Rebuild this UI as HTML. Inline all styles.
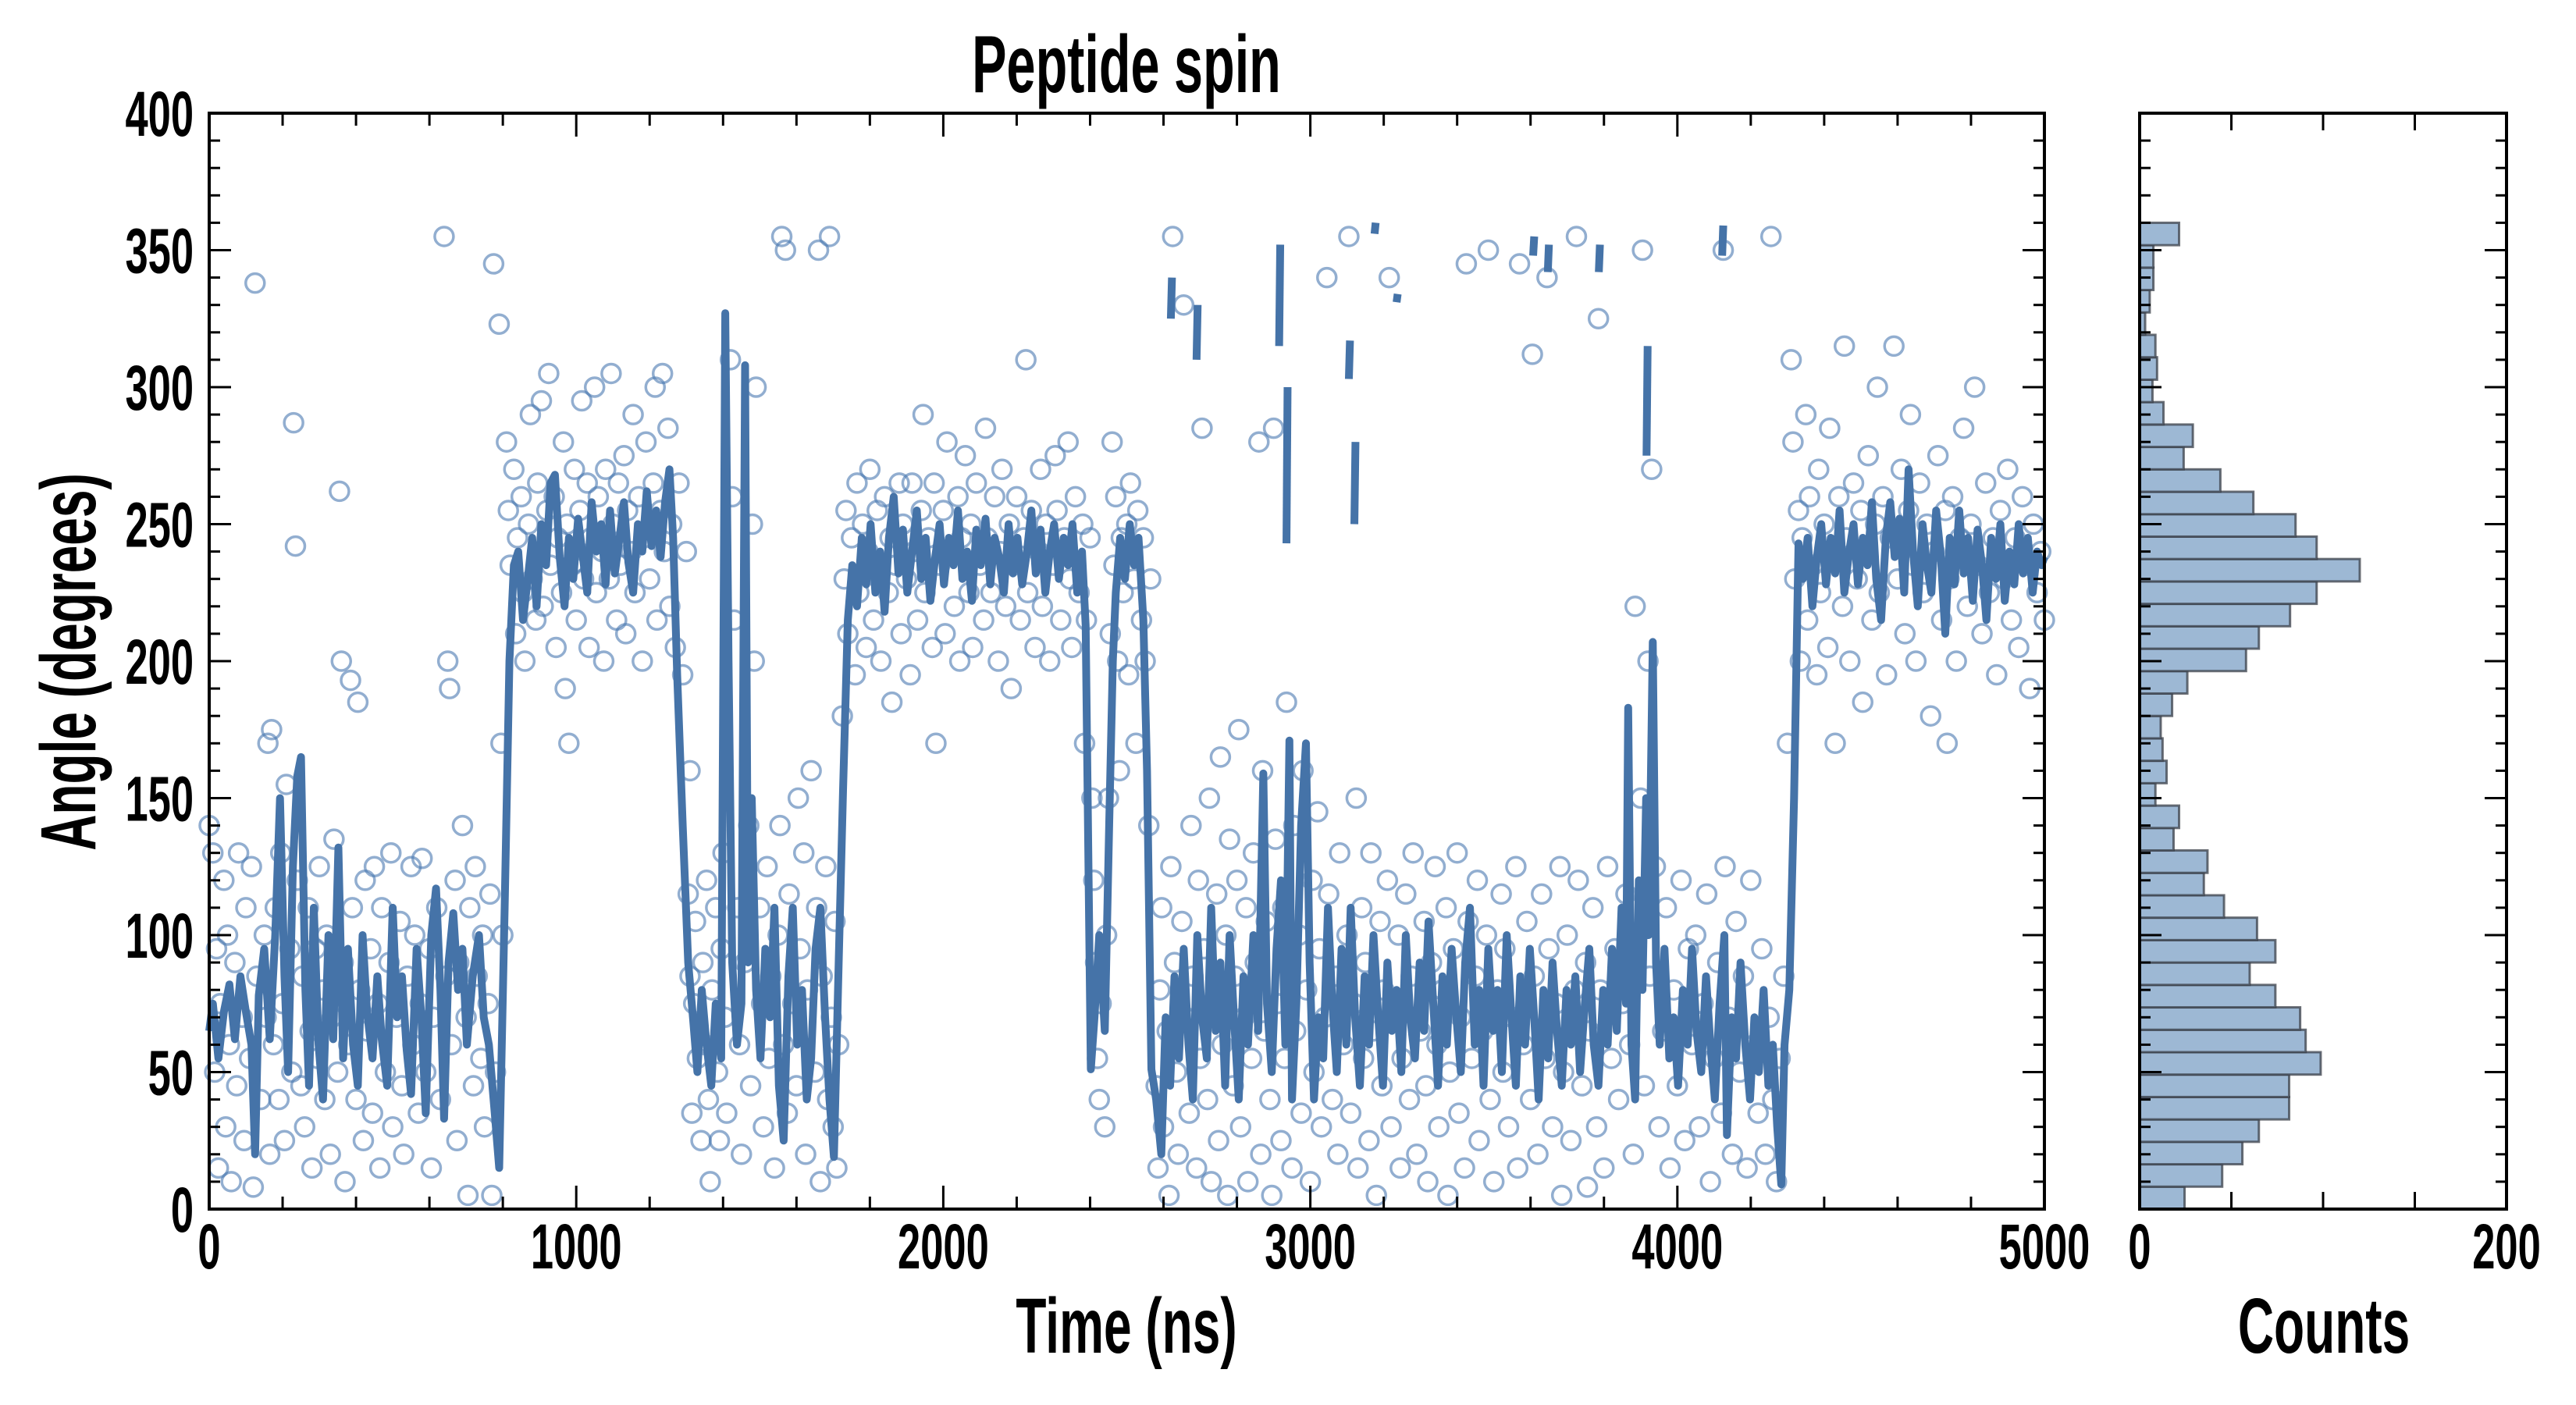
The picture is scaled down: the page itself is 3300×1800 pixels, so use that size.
<!DOCTYPE html>
<html><head><meta charset="utf-8"><title>Peptide spin</title>
<style>
html,body{margin:0;padding:0;background:#fff;}
svg{display:block;}
text{font-family:"Liberation Sans",sans-serif;font-weight:bold;fill:#000;}
</style></head>
<body>
<svg id="chart" width="3300" height="1800" viewBox="0 0 3300 1800" xmlns="http://www.w3.org/2000/svg">
<rect x="0" y="0" width="3300" height="1800" fill="#fff"/>
<g id="scatter"></g>
<g id="line"></g>
<g id="hist"></g>
<g id="axes"></g>
</svg>
<script>
const xTicks = [0, 1000, 2000, 3000, 4000, 5000];
const yTicks = [0, 50, 100, 150, 200, 250, 300, 350, 400];
const histCounts = [24.5,45,56,65,81.5,81.5,98.7,90.5,87.5,74,60,74,64,46,35,37,18.5,21.5,8.6,14.7,12.5,11.5,17.7,26,58,65,82,96.5,120,96.5,85,62,44,24,29,13,7,9.5,8.6,3,5.5,7.5,7.5,21.5];
const histTicks = [0, 200];
const scatterPts = [[0,140],[10,130],[15,50],[20,95],[25,15],[30,75],[40,120],[45,30],[50,100],[55,60],[60,10],[70,90],[75,45],[80,130],[90,70],[95,25],[100,110],[110,55],[115,125],[120,8],[125,338],[130,85],[140,40],[150,100],[155,70],[160,170],[165,20],[170,175],[175,60],[180,110],[190,40],[195,130],[200,75],[205,25],[210,155],[220,95],[225,50],[230,287],[235,242],[240,120],[250,45],[255,85],[260,30],[270,110],[275,65],[280,15],[290,95],[295,55],[300,125],[310,80],[315,40],[320,100],[330,20],[335,70],[340,135],[350,50],[355,262],[360,200],[365,90],[370,10],[380,60],[385,193],[390,110],[400,40],[405,185],[410,80],[420,25],[425,120],[430,65],[440,95],[445,35],[450,125],[460,75],[465,15],[470,110],[480,50],[490,90],[495,130],[500,30],[510,70],[520,105],[525,45],[530,20],[540,85],[550,125],[555,60],[560,100],[570,35],[575,75],[580,128],[590,50],[600,95],[605,15],[610,70],[620,110],[630,40],[640,355],[645,85],[650,200],[655,190],[660,60],[670,120],[675,25],[680,90],[690,140],[700,70],[705,5],[710,110],[720,45],[725,125],[730,85],[740,55],[745,100],[750,30],[760,75],[765,115],[770,5],[775,345],[780,50],[790,323],[795,170],[800,100],
[810,280],[815,255],[820,235],[830,270],[835,210],[840,245],[850,260],[855,225],[860,200],[870,250],[875,290],[880,230],[890,215],[895,265],[900,240],[905,295],[910,220],[920,255],[925,305],[930,235],[940,260],[945,205],[950,245],[960,225],[965,280],[970,190],[975,250],[980,170],[990,235],[995,270],[1000,215],[1010,255],[1015,295],[1020,230],[1030,265],[1035,205],[1040,245],[1050,300],[1055,225],[1060,260],[1070,240],[1075,200],[1080,270],[1090,230],[1095,305],[1100,250],[1110,215],[1115,265],[1120,235],[1130,275],[1135,210],[1140,255],[1150,240],[1155,290],[1160,225],[1170,260],[1180,200],[1185,245],[1190,280],[1200,230],[1210,265],[1215,300],[1220,215],[1230,255],[1235,305],[1240,240],[1250,285],[1255,220],[1260,250],[1270,205],[1280,265],[1290,195],[1300,240],[1310,160],
[1305,115],[1310,85],[1315,35],[1320,75],[1325,105],[1330,55],[1340,25],[1345,90],[1350,60],[1355,120],[1360,40],[1365,10],[1370,80],[1380,110],[1385,50],[1390,25],[1395,95],[1400,130],[1405,70],[1410,35],[1420,310],[1425,260],[1430,215],[1440,110],[1445,60],[1450,20],[1460,90],[1470,140],[1475,45],[1480,250],[1485,200],[1490,300],[1500,110],[1505,75],[1510,30],[1520,125],[1525,55],[1530,85],[1540,15],[1550,100],[1555,140],[1560,355],[1565,60],[1570,350],[1575,35],[1580,115],[1590,75],[1600,45],[1605,150],[1610,95],[1620,130],[1625,20],[1630,80],[1640,160],[1650,50],[1655,110],[1660,350],[1665,10],[1670,85],[1680,125],[1685,40],[1690,355],[1695,70],[1700,30],[1705,105],[1710,15],[1715,60],
[1725,180],[1730,230],[1735,255],[1740,210],[1750,245],[1760,195],[1765,265],[1770,225],[1780,250],[1790,205],[1795,240],[1800,270],[1810,215],[1820,255],[1825,230],[1830,200],[1840,260],[1850,225],[1855,245],[1860,185],[1870,235],[1880,265],[1885,210],[1890,250],[1900,230],[1910,195],[1915,265],[1920,240],[1930,215],[1940,255],[1945,290],[1950,225],[1960,245],[1970,205],[1975,265],[1980,170],[1990,235],[2000,255],[2005,210],[2010,280],[2020,240],[2030,220],[2040,260],[2045,200],[2050,245],[2060,275],[2070,225],[2075,250],[2080,205],[2090,265],[2100,235],[2110,215],[2115,285],[2120,245],[2130,225],[2140,260],[2150,200],[2155,240],[2160,270],[2170,220],[2180,250],[2185,190],[2190,235],[2200,260],[2210,215],[2220,245],[2225,310],[2230,225],[2240,255],[2250,205],[2260,240],[2265,270],[2270,220],[2280,250],[2290,200],[2300,235],[2305,275],[2310,255],[2320,215],[2330,245],[2340,280],[2345,230],[2350,205],[2360,260],[2370,225],[2380,250],[2385,170],[2390,215],[2400,245],[2405,150],
[2410,120],[2415,90],[2420,55],[2425,40],[2430,75],[2440,30],[2445,100],[2450,150],[2455,210],[2460,280],[2465,235],[2470,260],[2475,200],[2480,160],[2485,245],[2490,225],[2500,250],[2505,195],[2510,265],[2520,230],[2525,170],[2530,255],[2540,215],[2545,245],[2550,200],[2560,140],[2565,230],
[2580,45],[2585,15],[2590,80],[2595,110],[2600,30],[2610,65],[2615,5],[2620,125],[2625,355],[2630,90],[2635,50],[2640,20],[2650,105],[2655,330],[2660,70],[2670,35],[2675,140],[2680,85],[2690,15],[2695,120],[2700,55],[2705,285],[2710,95],[2720,40],[2725,150],[2730,10],[2740,75],[2745,115],[2750,25],[2755,165],[2760,60],[2770,100],[2775,5],[2780,135],[2790,45],[2795,85],[2800,120],[2805,175],[2810,30],[2820,70],[2825,110],[2830,10],[2840,55],[2845,130],[2850,90],[2860,280],[2865,20],[2870,160],[2875,65],[2880,105],[2890,40],[2895,5],[2900,285],[2905,135],[2910,75],[2920,25],[2925,110],[2930,55],[2935,185],[2940,90],[2950,15],[2955,140],[2960,65],[2970,100],[2975,35],[2980,160],[2990,80],[3000,10],[3005,120],[3010,50],[3020,145],[3025,95],[3030,30],[3040,70],[3045,340],[3050,115],[3060,40],[3070,85],[3075,20],[3080,130],[3090,60],[3100,100],[3105,355],[3110,35],[3120,75],[3125,150],[3130,15],[3140,110],[3145,55],[3150,90],[3160,25],[3165,130],[3170,65],[3180,5],[3190,105],[3195,45],[3200,80],[3210,120],[3215,340],[3220,30],[3230,70],[3240,100],[3245,15],[3250,55],[3260,115],[3270,40],[3275,85],[3280,130],[3290,20],[3300,65],[3310,105],[3315,45],[3320,10],[3330,90],[3340,125],[3345,60],[3350,30],[3360,80],[3370,110],[3375,5],[3380,50],[3390,95],[3400,130],[3405,35],[3410,70],[3420,15],[3425,345],[3430,105],[3440,55],[3450,85],[3455,120],[3460,25],[3470,65],[3480,100],[3485,350],[3490,40],[3500,10],[3510,80],[3520,115],[3525,50],[3530,95],[3540,30],[3550,70],[3560,125],[3565,15],[3570,345],[3580,60],[3590,105],[3600,40],[3605,312],[3610,85],[3620,20],[3630,115],[3640,55],[3645,340],[3650,95],[3660,30],[3670,75],[3680,125],[3685,5],[3690,50],[3700,100],[3710,25],[3720,80],[3725,355],[3730,120],[3740,45],[3750,90],[3755,8],[3760,65],[3770,110],[3780,30],[3785,325],[3790,80],[3800,15],[3810,125],[3820,55],[3830,95],[3840,40],[3850,75],[3860,115],[3870,60],[3880,20],[3885,220],[3890,100],[3900,150],[3905,350],[3910,45],[3920,200],[3925,85],[3930,270],[3940,125],[3950,30],[3960,65],[3970,110],[3980,15],[3990,80],[4000,45],[4010,120],[4020,25],[4030,95],[4040,60],[4050,100],[4060,30],[4070,75],[4080,115],[4090,10],[4100,55],[4110,90],[4120,35],[4125,350],[4130,125],[4140,70],[4150,20],[4160,105],[4170,50],[4180,85],[4190,15],[4200,120],[4210,60],[4220,35],[4230,95],[4240,20],[4250,70],[4255,355],[4260,40],[4270,10],[4280,55],[4290,85],[4300,170],
[4310,310],[4315,280],[4320,230],[4330,255],[4335,200],[4340,245],[4350,290],[4355,215],[4360,260],[4370,235],[4380,195],[4385,270],[4390,225],[4400,250],[4410,205],[4415,285],[4420,240],[4430,170],[4440,260],[4450,220],[4455,315],[4460,245],[4470,200],[4480,265],[4490,230],[4500,255],[4505,185],[4510,240],[4520,275],[4530,215],[4540,250],[4545,300],[4550,225],[4560,260],[4570,195],[4580,245],[4590,315],[4600,230],[4610,270],[4620,210],[4630,255],[4635,290],[4640,235],[4650,200],[4660,265],[4670,225],[4680,250],[4690,180],[4700,240],[4710,275],[4720,215],[4730,255],[4735,170],[4740,230],[4750,260],[4760,200],[4770,245],[4780,285],[4790,220],[4800,250],[4810,300],[4820,235],[4830,210],[4840,265],[4850,225],[4860,245],[4870,195],[4880,255],[4890,230],[4900,270],[4910,215],[4920,245],[4930,205],[4940,260],[4950,235],[4960,190],[4970,250],[4980,225],[4990,240],[5000,215]];
const lineData = [[0,65],[10,75],[25,55],[40,72],[55,82],[70,62],[85,85],[100,72],[115,60],[125,20],[135,78],[150,95],[165,62],[180,100],[193,150],[205,85],[215,50],[228,125],[240,158],[250,165],[262,80],[272,45],[285,110],[298,60],[310,40],[325,100],[338,62],[352,132],[365,55],[378,95],[392,60],[405,45],[418,100],[430,72],[445,55],[458,85],[470,62],[485,45],[500,110],[512,70],[525,85],[538,58],[550,42],[565,95],[578,70],[590,35],[605,100],[618,117],[630,80],[640,33],[652,90],[665,108],[678,80],[690,95],[702,60],[718,85],[735,100],[748,70],[762,60],[778,35],[790,15],[805,110],[818,200],[830,235],[842,240],[855,215],[868,230],[880,245],[892,220],[905,250],[918,235],[930,265],[942,268],[955,238],[968,220],[980,245],[992,230],[1005,252],[1018,238],[1030,225],[1042,258],[1055,240],[1068,250],[1080,228],[1092,255],[1105,232],[1118,245],[1130,258],[1142,236],[1155,225],[1168,250],[1180,240],[1192,262],[1205,242],[1218,255],[1230,238],[1242,258],[1254,270],[1264,245],[1275,195],[1290,140],[1305,90],[1318,70],[1330,50],[1342,80],[1355,60],[1368,45],[1380,75],[1395,55],[1406,327],[1415,200],[1425,90],[1438,60],[1450,75],[1460,308],[1468,90],[1478,150],[1490,80],[1502,55],[1515,95],[1528,70],[1540,110],[1552,45],[1565,25],[1578,85],[1590,110],[1602,60],[1615,80],[1628,40],[1640,55],[1652,95],[1665,110],[1678,70],[1690,40],[1702,19],[1715,90],[1727,153],[1740,215],[1752,235],[1765,220],[1778,245],[1790,228],[1802,250],[1815,225],[1828,240],[1840,218],[1852,245],[1865,260],[1878,232],[1890,248],[1902,225],[1915,240],[1928,255],[1940,230],[1952,245],[1965,222],[1978,238],[1990,250],[2002,228],[2015,245],[2028,235],[2040,255],[2052,230],[2065,240],[2078,222],[2090,248],[2102,235],[2115,252],[2128,228],[2140,245],[2152,238],[2165,225],[2178,250],[2190,232],[2202,245],[2215,228],[2228,240],[2240,255],[2252,232],[2265,248],[2278,225],[2290,240],[2302,250],[2315,230],[2328,245],[2340,235],[2352,250],[2365,225],[2378,240],[2388,213],[2396,120],[2402,51],[2412,70],[2425,100],[2440,65],[2452,140],[2462,200],[2470,225],[2482,245],[2495,230],[2508,250],[2520,235],[2532,245],[2545,215],[2555,160],[2567,51],[2580,40],[2594,20],[2606,70],[2618,45],[2630,85],[2642,55],[2655,95],[2668,60],[2680,40],[2692,100],[2705,70],[2718,55],[2730,110],[2742,65],[2755,90],[2768,45],[2780,100],[2792,70],[2805,40],[2818,85],[2830,60],[2845,100],[2858,65],[2872,159],[2882,75],[2895,50],[2908,95],[2920,120],[2932,60],[2943,171],[2950,40],[2962,75],[2975,140],[2988,170],[2998,90],[3010,40],[3022,70],[3035,55],[3048,110],[3060,75],[3072,50],[3085,95],[3098,60],[3110,110],[3122,70],[3135,45],[3148,85],[3160,60],[3172,100],[3185,70],[3198,45],[3210,90],[3222,65],[3235,80],[3248,50],[3260,100],[3272,70],[3285,55],[3298,90],[3310,65],[3322,105],[3335,75],[3348,45],[3360,85],[3372,60],[3385,95],[3398,70],[3410,50],[3422,90],[3435,110],[3448,60],[3460,80],[3472,45],[3485,95],[3498,65],[3510,80],[3522,50],[3535,100],[3548,70],[3560,45],[3572,85],[3585,60],[3598,95],[3610,70],[3622,40],[3635,80],[3648,55],[3660,90],[3672,65],[3685,45],[3698,80],[3710,60],[3722,85],[3735,50],[3748,75],[3760,95],[3772,60],[3785,45],[3798,80],[3810,60],[3822,95],[3835,65],[3848,110],[3860,75],[3866,183],[3875,60],[3885,40],[3895,120],[3905,80],[3915,150],[3922,100],[3933,207],[3942,90],[3952,60],[3965,95],[3978,55],[3990,70],[4002,45],[4015,80],[4028,60],[4040,95],[4052,65],[4065,50],[4078,85],[4090,60],[4102,40],[4115,75],[4128,100],[4135,27],[4148,70],[4160,55],[4172,90],[4185,60],[4198,40],[4210,70],[4222,50],[4235,80],[4248,45],[4260,60],[4272,30],[4283,9],[4292,60],[4305,80],[4318,150],[4330,243],[4342,230],[4355,245],[4368,220],[4380,238],[4392,250],[4405,228],[4418,245],[4430,232],[4442,255],[4455,225],[4468,240],[4480,250],[4492,228],[4505,245],[4518,235],[4530,258],[4542,230],[4555,215],[4568,245],[4580,258],[4592,238],[4605,252],[4618,225],[4630,270],[4642,240],[4655,220],[4668,250],[4680,235],[4692,225],[4705,255],[4718,238],[4730,210],[4742,245],[4755,228],[4768,255],[4780,232],[4792,245],[4805,222],[4818,248],[4830,235],[4842,215],[4855,245],[4868,230],[4880,250],[4892,222],[4905,240],[4918,228],[4930,250],[4942,232],[4955,245],[4968,225],[4980,240],[4992,235],[5000,238]];
const segT = [2620, 2690, 2915, 2935, 3105, 3120, 3175, 3235, 3607, 3647, 3786, 3916, 4122];
const segA0 = [325, 310, 315, 243, 303, 250, 356, 331, 348, 342, 342, 275, 348];
const segA1 = [340, 330, 352, 300, 317, 280, 360, 334, 355, 352, 352, 315, 359];

const NS = 'http://www.w3.org/2000/svg';
const M = {l:268, r:2619, t:145, b:1549};
const H = {l:2741, r:3211};
const xS = t => M.l + (t/5000)*(M.r-M.l);
const yS = a => M.b - (a/400)*(M.b-M.t);
const hS = c => H.l + (c/200)*(H.r-H.l);
function mk(tag, attrs, parent){const e=document.createElementNS(NS,tag);for(const k in attrs)e.setAttribute(k,attrs[k]);parent.appendChild(e);return e;}

const gS = document.getElementById('scatter');
scatterPts.forEach(p=>{
  const c = mk('circle',{cx:xS(p[0]),cy:yS(p[1]),r:12,fill:'none',stroke:'#4a78b0','stroke-opacity':0.6,'stroke-width':3.5},gS);
  
  
});
const gL = document.getElementById('line');
const pl = mk('polyline',{points:lineData.map(p=>xS(p[0]).toFixed(1)+','+yS(p[1]).toFixed(1)).join(' '),fill:'none',stroke:'#4573a8','stroke-width':10,'stroke-linejoin':'round'},gL);


segT.forEach((t,i)=>{
  const s = mk('line',{x1:xS(t),x2:xS(t+3),y1:yS(segA0[i]),y2:yS(segA1[i]),stroke:'#4573a8','stroke-width':10},gL);
  
  
});
const gH = document.getElementById('hist');
const bw = 360/histCounts.length;
histCounts.forEach((c,i)=>{
  const y0=yS(i*bw), y1=yS((i+1)*bw);
  const r = mk('rect',{x:H.l,y:y1,width:hS(c)-H.l,height:y0-y1,fill:'#9db8d4',stroke:'#3a3f48','stroke-opacity':0.75,'stroke-width':3},gH);
  
  
});

const gA = document.getElementById('axes');
function frame(l,r,name){
  const f = mk('rect',{x:l,y:M.t,width:r-l,height:M.b-M.t,fill:'none',stroke:'#000','stroke-width':4},gA);
  
  
  for(let a=0;a<=400;a+=10){
    const len = a%50===0?28:14, y=yS(a);
    mk('line',{x1:l,x2:l+len,y1:y,y2:y,stroke:'#000','stroke-width':3},gA);
    mk('line',{x1:r,x2:r-len,y1:y,y2:y,stroke:'#000','stroke-width':3},gA);
  }
}
frame(M.l,M.r,'main-plot-frame');
frame(H.l,H.r,'histogram-frame');
for(let t=0;t<=5000;t+=200){
  const len = t%1000===0?30:16, x=xS(t);
  mk('line',{x1:x,x2:x,y1:M.b,y2:M.b-len,stroke:'#000','stroke-width':3},gA);
  mk('line',{x1:x,x2:x,y1:M.t,y2:M.t+len,stroke:'#000','stroke-width':3},gA);
}
for(let c=50;c<200;c+=50){
  const x=hS(c);
  mk('line',{x1:x,x2:x,y1:M.b,y2:M.b-22,stroke:'#000','stroke-width':3},gA);
  mk('line',{x1:x,x2:x,y1:M.t,y2:M.t+22,stroke:'#000','stroke-width':3},gA);
}
function txt(s,x,y,size,anchor,name,rot){
  const g = mk('g',{transform:'translate('+x+','+y+')'+(rot?' rotate('+rot+')':'')+' scale(0.64,1)'},gA);
  const e = mk('text',{x:0,y:0,'font-size':size,'text-anchor':anchor},g);
  e.textContent=s;
  
  
  return e;
}
xTicks.forEach(t=>txt(String(t),xS(t),1625,82,'middle','x-tick-label'));
yTicks.forEach(a=>txt(String(a),248,yS(a)+29,82,'end','y-tick-label'));
histTicks.forEach(c=>txt(String(c),hS(c),1625,82,'middle','hist-tick-label'));
txt('Peptide spin',1443,118,104,'middle','chart-title');
txt('Time (ns)',1443,1733,100,'middle','x-axis-title');
txt('Counts',2977,1733,100,'middle','hist-x-axis-title');
txt('Angle (degrees)',122,848,100,'middle','y-axis-title',-90);
</script>
</body></html>
